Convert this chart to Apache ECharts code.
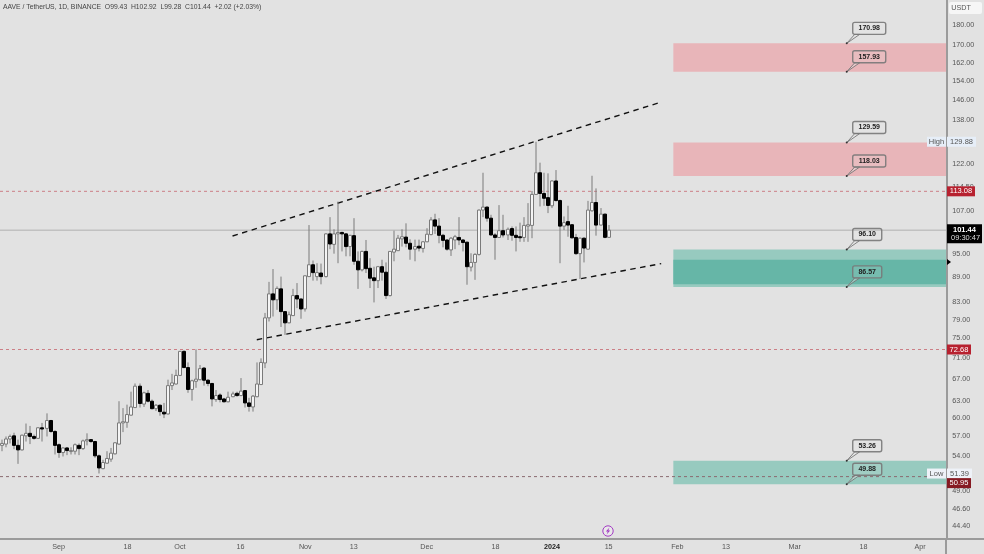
<!DOCTYPE html>
<html><head><meta charset="utf-8">
<style>html,body{margin:0;padding:0;background:#e2e2e2}#c{width:984px;height:554px}</style>
<script src="https://cdn.jsdelivr.net/npm/echarts@6/dist/echarts.min.js"></script>
</head><body><div id="c"></div>
<script>
const FONT = '"Liberation Sans", Arial, sans-serif';
const firstDay = '2023-08-18';
const dayCount = 234;
const opens = [55.6,55.8,56.6,57.1,55.6,54.9,57.1,57.5,57.0,56.7,
58.4,58.3,59.6,57.8,55.7,54.5,55.2,54.7,54.7,55.6,
55.1,56.3,56.5,56.2,54.0,52.1,52.9,53.5,54.3,55.8,
59.2,59.3,60.5,61.8,65.6,62.4,64.3,62.9,61.6,62.2,
61.0,60.7,65.7,66.0,67.6,72.3,69.1,65.0,66.5,66.8,
69.0,66.7,66.1,63.2,64.0,63.3,62.8,63.7,64.3,63.9,
64.8,62.6,61.9,63.7,65.9,70.0,79.4,84.9,83.5,86.1,
80.8,78.3,79.9,84.5,83.7,81.4,89.1,92.1,89.1,90.0,
89.1,100.4,97.5,100.4,100.8,100.4,96.9,99.9,93.0,90.8,
95.6,91.2,88.8,88.1,91.6,90.2,84.5,95.4,95.8,99.0,
99.5,97.8,96.2,97.0,96.4,98.2,100.2,104.4,102.6,100.0,
98.7,96.0,98.7,99.4,98.7,98.1,91.5,92.7,94.8,107.3,
108.2,104.9,100.1,99.4,101.3,100.1,101.9,100.0,99.6,99.4,
102.6,102.8,112.1,119.1,112.4,111.1,108.6,116.4,110.2,102.6,
103.9,103.0,99.4,95.0,99.2,96.2,107.1,109.6,102.9,106.1,
99.43];
const closes = [55.9,56.6,57.0,55.6,54.9,57.2,57.5,57.0,56.7,58.4,
58.2,59.6,57.8,55.6,54.5,55.2,54.8,54.8,55.7,55.1,
56.3,56.5,56.2,54.0,52.2,53.0,53.6,54.4,56.0,59.2,
59.4,60.6,61.9,65.6,62.5,64.4,62.9,61.6,62.2,61.1,
60.7,65.7,66.2,67.6,72.3,69.1,65.0,66.6,66.9,68.9,
66.7,66.1,63.3,63.9,63.2,62.8,63.6,64.2,63.9,64.7,
62.6,62.0,63.8,66.0,70.1,79.4,84.9,83.5,86.2,80.8,
78.3,80.1,84.5,83.7,81.4,89.3,92.1,90.1,90.1,89.1,
100.4,97.6,100.4,100.8,100.4,96.9,100.0,93.0,90.8,95.6,
91.1,88.7,88.1,91.6,90.2,84.5,95.6,96.2,99.2,99.6,
97.8,96.2,96.9,96.5,98.2,100.3,104.4,102.6,100.0,98.6,
96.2,99.2,99.6,98.7,98.0,91.6,92.7,94.8,107.3,108.2,
104.9,100.1,99.4,101.3,100.1,101.7,100.0,99.4,99.4,102.8,
103.0,112.1,119.1,112.4,110.9,108.7,116.4,110.2,102.6,103.6,
102.9,99.3,95.0,99.2,96.5,107.3,109.6,102.9,106.1,99.43,
101.44];
const lows = [54.7,55.3,55.9,55.0,52.8,54.8,56.2,55.8,56.5,56.6,
56.2,57.0,57.6,54.2,53.7,53.9,54.1,54.2,54.2,54.1,
54.9,55.6,56.0,53.7,51.4,52.0,52.8,53.1,54.2,55.7,
57.7,58.4,60.4,61.7,61.8,61.9,62.7,61.5,61.2,60.4,
60.0,60.6,64.9,65.9,67.5,69.0,64.4,63.0,65.3,66.7,
65.7,65.6,62.0,62.8,62.7,62.7,62.7,63.6,63.7,63.8,
61.8,61.1,61.1,63.6,65.8,69.0,78.6,79.7,81.2,77.4,
75.7,78.2,79.8,81.6,79.2,80.8,89.0,88.1,88.1,87.2,
88.9,96.2,95.0,92.5,95.6,94.3,94.3,92.1,86.1,90.4,
90.0,86.3,82.9,86.3,88.1,83.7,84.3,93.0,95.7,96.9,
96.7,93.4,93.0,95.6,95.3,98.1,100.0,100.4,97.8,96.7,
95.8,94.4,96.2,97.3,95.6,87.1,90.4,88.3,94.5,105.2,
103.9,99.9,93.4,99.3,99.4,98.7,98.5,95.6,98.2,98.2,
98.2,99.2,112.0,108.4,108.6,106.4,107.9,109.9,92.5,101.5,
99.6,99.1,94.7,88.5,92.7,96.1,106.8,99.9,102.8,99.2,
99.28];
const highs = [56.5,57.0,57.3,57.6,56.5,57.3,59.1,58.7,57.3,58.5,
59.2,60.8,59.7,58.0,55.9,55.3,55.3,55.3,55.9,55.9,
56.5,57.5,56.6,56.3,54.2,53.4,54.7,55.2,56.1,62.9,
61.7,62.3,64.6,66.1,66.1,64.6,64.9,63.2,62.4,62.3,
62.6,66.8,67.9,68.7,72.4,72.5,70.1,66.8,72.7,69.6,
69.2,66.9,66.2,64.9,64.3,63.5,64.6,64.6,64.6,67.1,
64.9,63.5,64.0,70.1,70.9,80.5,87.8,91.0,86.7,89.1,
80.9,80.8,86.1,87.5,83.8,89.4,102.9,93.2,92.5,92.4,
100.6,105.2,101.7,109.9,101.0,100.6,100.1,104.9,95.6,95.8,
98.7,93.8,91.6,91.8,93.4,92.7,95.7,101.3,100.1,101.7,
103.4,98.9,98.8,98.8,98.4,102.0,105.2,106.2,104.9,100.4,
98.9,99.5,100.1,105.2,98.9,98.2,95.1,95.1,107.5,119.1,
108.4,105.9,100.6,108.8,105.9,102.2,102.5,102.5,103.6,105.2,
109.4,113.2,129.88,122.5,119.1,118.9,116.6,120.0,110.5,105.4,
108.6,103.2,100.4,99.4,99.4,110.1,118.1,114.0,107.9,106.2,
102.92];
const priceTicks = [180,170,162,154,146,138,122,114.5,107,95,89,83,79,75,71,67,63,60,57,54,49,46.6,44.4];
const timeTicks = {'2023-09-01':'Sep','2023-09-18':'18','2023-10-01':'Oct','2023-10-16':'16','2023-11-01':'Nov','2023-11-13':'13','2023-12-01':'Dec','2023-12-18':'18','2024-01-01':'2024','2024-01-15':'15','2024-02-01':'Feb','2024-02-13':'13','2024-03-01':'Mar','2024-03-18':'18','2024-04-01':'Apr'};
// supply and demand boxes: [top price, bottom price]
const supplyZones = [[170.98,157.93],[129.59,118.03]];
const demandZones = [[96.10,86.57],[53.26,49.88]];
const demandCores = [[93.4,87.2]];
const zoneStartDay = '2024-01-31';
const calloutDay = '2024-03-14';
const calloutPrices = [170.98,157.93,129.59,118.03,96.10,86.57,53.26,49.88];
const upperTrend = [['2023-10-14',99.8],['2024-01-28',145.1]];
const lowerTrend = [['2023-10-20',74.7],['2024-01-28',92.4]];
const levelPrices = [113.08,72.68,50.95];
const lastPrice = 101.44;
const countdown = '09:30:47';
const highPrice = 129.88, lowPrice = 51.39;
const titleText = 'AAVE / TetherUS, 1D, BINANCE  O99.43  H102.92  L99.28  C101.44  +2.02 (+2.03%)';

const dates = [];
{ const t0 = Date.parse(firstDay + 'T00:00:00Z');
  for (let i = 0; i < dayCount; i++) dates.push(new Date(t0 + i * 864e5).toISOString().slice(0, 10)); }
const dayIdx = d => dates.indexOf(d);

const candleData = opens.map((o, i) => [i, o, closes[i], lows[i], highs[i]]);

function renderCandle(params, api) {
  const i = api.value(0), o = api.value(1), c = api.value(2), l = api.value(3), h = api.value(4);
  const x = Math.round(api.coord([i, o])[0]);
  const yO = api.coord([i, o])[1], yC = api.coord([i, c])[1];
  const yL = api.coord([i, l])[1], yH = api.coord([i, h])[1];
  const up = c >= o, top = Math.min(yO, yC), hgt = Math.max(Math.abs(yO - yC), 1);
  return { type: 'group', children: [
    { type: 'line', shape: { x1: x, y1: yH, x2: x, y2: yL }, style: { stroke: '#7a7a7a', lineWidth: 1 } },
    { type: 'rect', shape: { x: x - 1.5, y: top, width: 3, height: hgt },
      style: { fill: up ? '#f4f4f4' : '#000', stroke: up ? '#7a7a7a' : '#000', lineWidth: 1 } }
  ]};
}
function zoneSeries(name, zones, color, z) {
  return { name, type: 'custom', z, silent: true, encode: { x: 0, y: [1, 2] },
    data: zones.map(r => [dayIdx(zoneStartDay), r[0], r[1]]),
    renderItem(p, api) {
      const a = api.coord([api.value(0), api.value(1)]), b = api.coord([api.value(0), api.value(2)]);
      return { type: 'rect', shape: { x: a[0], y: a[1], width: 946 - a[0], height: b[1] - a[1] }, style: { fill: color } };
    } };
}
function hLineSeries(name, price, style, z) {
  return { name, type: 'custom', z, silent: true, encode: { x: 0, y: 1 }, data: [[0, price]],
    renderItem(p, api) {
      const y = api.coord([0, api.value(1)])[1];
      return { type: 'line', shape: { x1: 0, y1: y, x2: 946, y2: y }, style };
    } };
}
function lineSeries(name, data, style, z) {
  return { name, type: 'line', data, z, symbol: 'none', silent: true, lineStyle: style, animation: false };
}
function renderCallout(p, api) {
  const pt = api.coord([dayIdx(calloutDay), api.value(1)]);
  const txt = api.value(1).toFixed(2), ax = pt[0] - 0.5, ay = pt[1];
  const w = txt.length > 5 ? 33 : 29;
  const bx = ax + 6, by = ay - 21, bh = 12;
  return { type: 'group', children: [
    { type: 'polygon', shape: { points: [[ax, ay], [bx + 2, by + bh], [bx + 7, by + bh]] },
      style: { fill: 'rgba(236,236,236,0.35)', stroke: 'rgba(120,120,120,0.9)', lineWidth: 1 } },
    { type: 'rect', shape: { x: bx, y: by, width: w, height: bh, r: 2 },
      style: { fill: 'rgba(240,240,240,0.12)', stroke: 'rgba(120,120,120,0.9)', lineWidth: 1.4 } },
    { type: 'circle', shape: { cx: ax, cy: ay, r: 1 }, style: { fill: '#333' } },
    { type: 'text', style: { x: bx + w / 2, y: by + bh / 2, text: txt, fill: '#222', font: 'bold 7px ' + FONT, align: 'center', verticalAlign: 'middle' } }
  ]};
}
function tag(y, w, bg, fg, text, weight) {
  return [
    { type: 'rect', shape: { x: 947, y: y - 5, width: w, height: 10 }, style: { fill: bg } },
    { type: 'text', style: { x: 947 + w / 2, y, text, fill: fg, font: (weight || '') + ' 7.5px ' + FONT, align: 'center', verticalAlign: 'middle' } }
  ];
}
function renderTags(p, api) {
  const yAt = v => api.coord([0, v])[1];
  const kids = [];
  const hy = yAt(highPrice), ly = yAt(lowPrice);
  kids.push({ type: 'rect', shape: { x: 927, y: hy - 5, width: 19, height: 10 }, style: { fill: '#e6eef8' } });
  kids.push({ type: 'text', style: { x: 936.5, y: hy, text: 'High', fill: '#555', font: '7.5px ' + FONT, align: 'center', verticalAlign: 'middle' } });
  kids.push(...tag(hy, 29, '#e6eef8', '#555', highPrice.toFixed(2)));
  kids.push({ type: 'rect', shape: { x: 927, y: ly - 5, width: 19, height: 10 }, style: { fill: '#eef2f8' } });
  kids.push({ type: 'text', style: { x: 936.5, y: ly, text: 'Low', fill: '#555', font: '7.5px ' + FONT, align: 'center', verticalAlign: 'middle' } });
  kids.push(...tag(ly, 25, '#eef2f8', '#555', lowPrice.toFixed(2)));
  kids.push(...tag(yAt(levelPrices[0]), 28, '#b7212f', '#fff', levelPrices[0].toFixed(2)));
  kids.push(...tag(yAt(levelPrices[1]), 24, '#b7212f', '#fff', levelPrices[1].toFixed(2)));
  kids.push(...tag(yAt(levelPrices[2]) + 6.5, 24, '#861a22', '#fff', levelPrices[2].toFixed(2)));
  const c = yAt(lastPrice);
  kids.push({ type: 'rect', shape: { x: 947, y: c - 6, width: 35, height: 19 }, style: { fill: '#000' } });
  kids.push({ type: 'text', style: { x: 953, y: c - 0.5, text: lastPrice.toFixed(2), fill: '#fff', font: 'bold 7.5px ' + FONT, align: 'left', verticalAlign: 'middle' } });
  kids.push({ type: 'text', style: { x: 951, y: c + 8, text: countdown, fill: '#ddd', font: '7.5px ' + FONT, align: 'left', verticalAlign: 'middle' } });
  return { type: 'group', children: kids };
}

const series = [
  zoneSeries('Supply', supplyZones, '#e8b5b9', 1),
  zoneSeries('Demand', demandZones, '#97cabf', 1),
  zoneSeries('Demand core', demandCores, '#66b6a7', 1),
  hLineSeries('Last', lastPrice, { stroke: '#b0b0b0', lineWidth: 1 }, 2)
];
levelPrices.forEach((v, k) => series.push(hLineSeries('Level ' + v, v,
  { stroke: k === 2 ? '#8a6a70' : '#cc7f86', lineWidth: 1, lineDash: [3, 3] }, 2)));
series.push(lineSeries('Upper channel', upperTrend.map(d => [dayIdx(d[0]), d[1]]), { color: '#111', width: 1.4, type: [5.5, 4.5] }, 4));
series.push(lineSeries('Lower channel', lowerTrend.map(d => [dayIdx(d[0]), d[1]]), { color: '#111', width: 1.4, type: [5.5, 4.5] }, 4));
series.push({ name: 'AAVE', type: 'custom', z: 5, silent: true, encode: { x: 0, y: [1, 2, 3, 4] }, data: candleData, renderItem: renderCandle });
series.push({ name: 'Callouts', type: 'custom', z: 6, silent: true, encode: { x: 0, y: 1 }, data: calloutPrices.map(v => [dayIdx(calloutDay), v]), renderItem: renderCallout });
series.push({ name: 'Tags', type: 'custom', z: 7, silent: true, encode: { x: 0, y: 1 }, data: [[0, lastPrice]], renderItem: renderTags });

const chart = echarts.init(document.getElementById('c'));
chart.setOption({
  animation: false,
  backgroundColor: '#e2e2e2',
  textStyle: { fontFamily: FONT },
  title: { text: titleText, left: 3, top: 4, padding: 0, textStyle: { fontSize: 6.8, fontWeight: 'normal', color: '#444', fontFamily: FONT } },
  grid: { left: -0.7, top: 0, width: 947, height: 539 },
  xAxis: { type: 'category', data: dates,
    axisTick: { show: false }, splitLine: { show: false },
    axisLine: { show: true, lineStyle: { color: '#9b9b9b', width: 2 } },
    axisLabel: { color: '#555', fontSize: 7.2, margin: 5, interval: i => timeTicks[dates[i]] !== undefined,
      formatter: v => timeTicks[v] === '2024' ? '{b|2024}' : (timeTicks[v] || ''),
      rich: { b: { fontWeight: 'bold', color: '#222', fontSize: 7.2 } } } },
  yAxis: { type: 'log', logBase: 10, position: 'right', min: 42.8, max: 193, scale: true,
    axisTick: { show: false }, splitLine: { show: false }, minorTick: { show: false }, minorSplitLine: { show: false },
    axisLine: { show: true, lineStyle: { color: '#9b9b9b', width: 2 } },
    axisLabel: { color: '#555', fontSize: 7.2, margin: 6, align: 'left', customValues: priceTicks, formatter: v => Number(v).toFixed(2) } },
  graphic: [
    { type: 'line', z: 1, shape: { x1: 946, y1: 539, x2: 984, y2: 539 }, style: { stroke: '#9b9b9b', lineWidth: 2 } },
    { type: 'line', z: 1, shape: { x1: 946, y1: 539, x2: 946, y2: 554 }, style: { stroke: '#9b9b9b', lineWidth: 2 } },
    { type: 'rect', z: 10, shape: { x: 949, y: 2, width: 33, height: 12, r: 2 }, style: { fill: '#f6f6f6' } },
    { type: 'text', z: 11, style: { x: 961, y: 8, text: 'USDT', fill: '#555', font: '7.2px ' + FONT, align: 'center', verticalAlign: 'middle' } },
    { type: 'polygon', z: 11, shape: { points: [[947, 259], [951, 262], [947, 265]] }, style: { fill: '#000' } },
    { type: 'circle', z: 11, shape: { cx: 608, cy: 531, r: 5.2 }, style: { fill: 'rgba(255,255,255,0.25)', stroke: '#a33cc4', lineWidth: 1 } },
    { type: 'polygon', z: 12, shape: { points: [[609.5, 527.5], [605.8, 531.5], [607.8, 531.5], [606.6, 534.5], [610.2, 530.4], [608.3, 530.4]] }, style: { fill: '#a33cc4' } }
  ],
  series
});
</script></body></html>
